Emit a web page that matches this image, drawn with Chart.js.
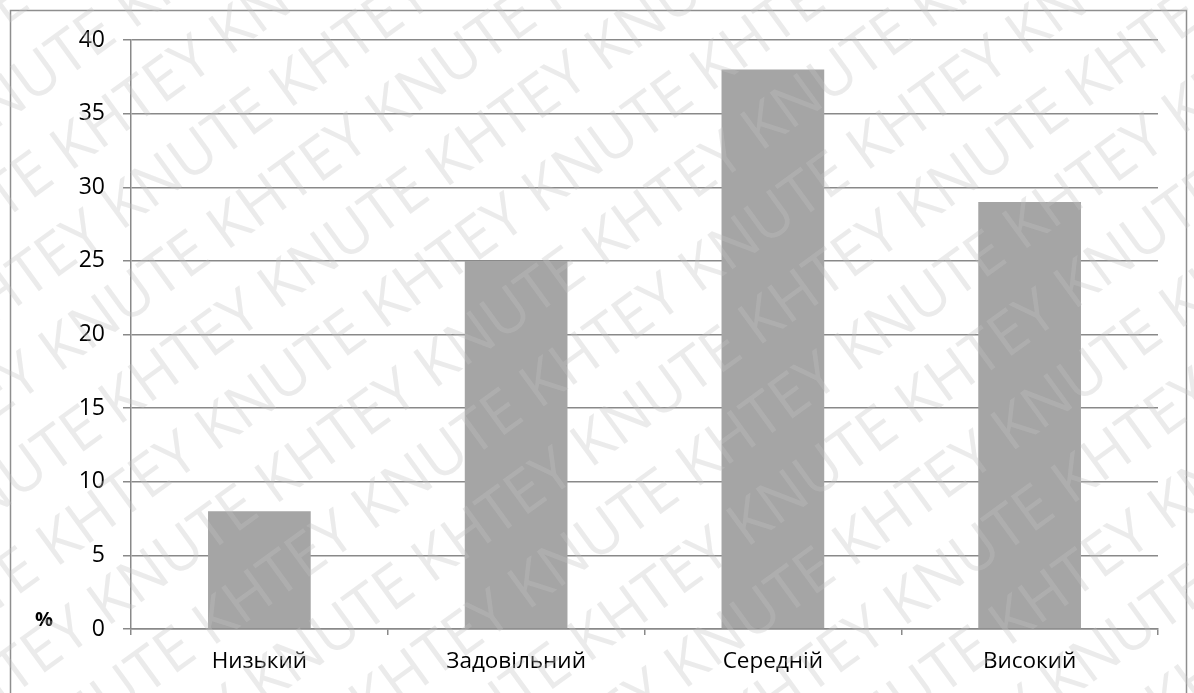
<!DOCTYPE html>
<html>
<head>
<meta charset="utf-8">
<script src="https://cdn.jsdelivr.net/npm/chart.js@4.4.1/dist/chart.umd.min.js"></script>
<style>
  html, body { margin: 0; padding: 0; background: #fff; }
  #wrap { width: 1194px; height: 693px; position: relative; }
</style>
</head>
<body>
<div id="wrap"><canvas id="levelChart"></canvas></div>
<script>
const categories = ['Низький', 'Задовільний', 'Середній', 'Високий'];
const percentValues = [8, 25, 38, 29];
const yTicks = [0, 5, 10, 15, 20, 25, 30, 35, 40];

const axisGray = '#898989';
const fontFamily = "'Open Sans', 'Noto Sans', sans-serif";

// frame round the whole picture plus the "%" label
const framePlugin = {
    id: 'frame',
    beforeDraw(chart) {
        const c = chart.ctx;
        c.save();
        c.fillStyle = '#fff';
        c.fillRect(0, 0, chart.width, chart.height);
        c.strokeStyle = '#8e8e8e';
        c.lineWidth = 1.5;
        c.strokeRect(10.5, 10.5, 1176, 720);
        c.restore();
    },
    afterDraw(chart) {
        const c = chart.ctx;
        c.save();
        c.fillStyle = '#000';
        c.font = "bold 20px " + fontFamily;
        c.textAlign = 'left';
        c.textBaseline = 'middle';
        c.fillText('%', 35, 620);
        c.restore();
    }
};

// faint diagonal watermark of the source document
const watermarkPlugin = {
    id: 'watermark',
    afterDraw(chart) {
        const c = chart.ctx;
        c.save();
        c.beginPath();
        c.rect(0, 0, chart.width, chart.height);
        c.clip();
        c.translate(chart.width / 2, chart.height / 2);
        c.rotate(-36 * Math.PI / 180);
        c.font = "60px 'Open Sans', sans-serif";
        c.fillStyle = 'rgba(195, 195, 195, 0.33)';
        c.textBaseline = 'middle';
        const line = 'KNUTE KHTEY KNUTE KHTEY KNUTE KHTEY KNUTE KHTEY KNUTE KHTEY ';
        for (let i = -10; i <= 10; i++) {
            const shift = (i % 2 === 0) ? 0 : -230;
            c.fillText(line, -1100 + shift + i * 40, i * 78);
        }
        c.restore();
    }
};

const ctx = document.getElementById('levelChart').getContext('2d');
const levelChart = new Chart(ctx, {
    type: 'bar',
    data: {
        labels: categories,
        datasets: [{
            data: percentValues,
            backgroundColor: '#a5a5a5',
            borderWidth: 0,
            barPercentage: 0.4,
            categoryPercentage: 1.0
        }]
    },
    options: {
        responsive: true,
        maintainAspectRatio: false,
        animation: false,
        layout: {
            padding: { top: 40, right: 36, left: 0, bottom: 0 }
        },
        plugins: {
            legend: { display: false },
            tooltip: { enabled: false }
        },
        scales: {
            y: {
                min: 0,
                max: 40,
                afterFit(scale) { scale.width = 131; },
                afterBuildTicks(scale) { scale.ticks = yTicks.map(v => ({ value: v })); },
                border: { display: true, color: axisGray, width: 1.5 },
                grid: { color: axisGray, lineWidth: 1.5, tickLength: 8 },
                ticks: {
                    color: '#000',
                    padding: 18,
                    font: { family: fontFamily, size: 23 }
                }
            },
            x: {
                afterFit(scale) { scale.height = 64; },
                border: { display: true, color: axisGray, width: 1.5 },
                grid: { display: true, drawOnChartArea: false, color: axisGray, lineWidth: 1.5, tickLength: 6, offset: true },
                ticks: {
                    color: '#000',
                    padding: 13,
                    font: { family: fontFamily, size: 22.5 }
                }
            }
        }
    },
    plugins: [framePlugin, watermarkPlugin]
});
</script>
</body>
</html>
